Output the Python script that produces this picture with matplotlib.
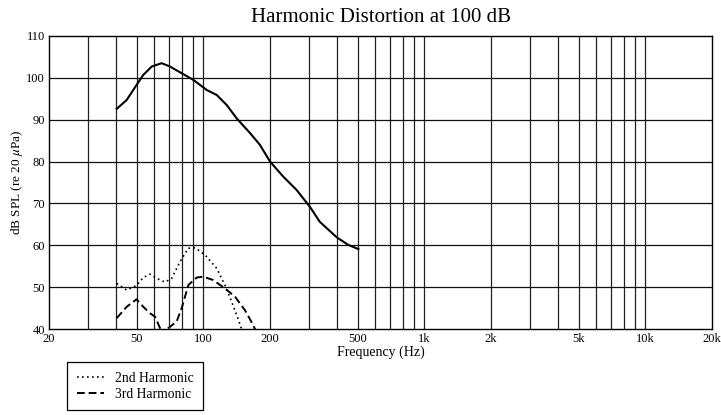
import numpy as np
import matplotlib
matplotlib.use("Agg")
import matplotlib.pyplot as plt
from matplotlib.ticker import FixedLocator, NullFormatter

plt.rcParams['font.family'] = ['Liberation Serif', 'DejaVu Serif']
plt.rcParams['mathtext.fontset'] = 'stix'

# fundamental (Hz, dB)
f_fund = [40.5, 44.9, 49.8, 53.4, 58.3, 64.7, 70.5, 79.7, 90, 103.4, 114.8,
          127.4, 141.4, 162.4, 180, 200, 229.6, 264, 303, 336, 401, 452, 502]
db_fund = [92.6, 94.7, 98.3, 100.7, 102.7, 103.5, 102.7, 101.1, 99.5, 97.1,
           95.9, 93.5, 90.3, 86.8, 84.0, 80.0, 76.4, 73.2, 69.2, 65.6, 61.9,
           60.1, 59.1]

# 2nd harmonic
f_h2 = [40.5, 44.9, 49.8, 53.4, 57.2, 61.4, 67, 71.8, 78.3, 85.4, 91.6, 101.6,
        114.8, 125, 134.2, 143.9, 152]
db_h2 = [50.9, 49.3, 50.4, 52.3, 53.1, 52.1, 51.2, 52.1, 56.1, 59.3, 59.4, 57.7,
         54.5, 50.5, 46.5, 42.2, 38.5]

# 3rd harmonic
f_h3 = [40.5, 44.9, 49.8, 53.4, 57.2, 60.4, 63.6, 66.3, 69.3, 75.6, 79.7, 85.4,
        93.2, 99.8, 110.6, 125, 139, 154, 168, 176]
db_h3 = [42.6, 45.3, 47.1, 45.3, 43.8, 42.9, 40.2, 38.5, 40.2, 41.8, 45.0, 50.5,
         52.3, 52.5, 51.7, 49.7, 47.7, 44.5, 40.9, 38.5]

xticks = [20, 50, 100, 200, 500, 1000, 2000, 5000, 10000, 20000]
xlabels = ['20', '50', '100', '200', '500', '1k', '2k', '5k', '10k', '20k']
grid_f = [30, 40, 50, 60, 70, 80, 90, 100, 200, 300, 400, 500, 600, 700, 800,
          900, 1000, 2000, 3000, 4000, 5000, 6000, 7000, 8000, 9000, 10000]

fig = plt.figure(figsize=(7.21, 4.15), dpi=100)
ax = fig.add_axes([0.068, 0.2072, 0.9195, 0.7061])

for g in grid_f:
    ax.axvline(g, color='#222222', lw=0.9, zorder=1)
for y in range(50, 110, 10):
    ax.axhline(y, color='#111111', lw=0.9, zorder=1)

ax.plot(f_fund, db_fund, color='black', lw=1.5, zorder=3)
l2, = ax.plot(f_h2, db_h2, color='black', lw=1.2, ls=(0, (1, 2)), zorder=3,
              label='2nd Harmonic')
l3, = ax.plot(f_h3, db_h3, color='black', lw=1.4, ls=(0, (4, 2)), zorder=3,
              label='3rd Harmonic')

ax.set_xscale('log')
ax.set_xlim(20, 20000)
ax.set_ylim(40, 110)
ax.xaxis.set_major_locator(FixedLocator(xticks))
ax.set_xticklabels(xlabels)
ax.xaxis.set_minor_formatter(NullFormatter())
ax.set_yticks(range(40, 111, 10))
ax.tick_params(which='both', length=0, labelsize=9, pad=3)
for s in ax.spines.values():
    s.set_linewidth(1.0)
    s.set_color('black')

ax.set_xlabel('Frequency (Hz)', fontsize=10, labelpad=0)
ax.set_ylabel(r'dB SPL (re 20 $\mu$Pa)', fontsize=9.5, labelpad=1)
ax.set_title('Harmonic Distortion at 100 dB', fontsize=15, pad=10)

leg = fig.legend(handles=[l2, l3], loc='upper left',
                 bbox_to_anchor=(0.093, 0.127), fontsize=9.8, frameon=True,
                 fancybox=False, edgecolor='black', framealpha=1,
                 handlelength=2.0, handletextpad=0.8, borderpad=0.7,
                 labelspacing=0.2, borderaxespad=0)
leg.get_frame().set_linewidth(0.9)

fig.savefig('out.png', dpi=100)
